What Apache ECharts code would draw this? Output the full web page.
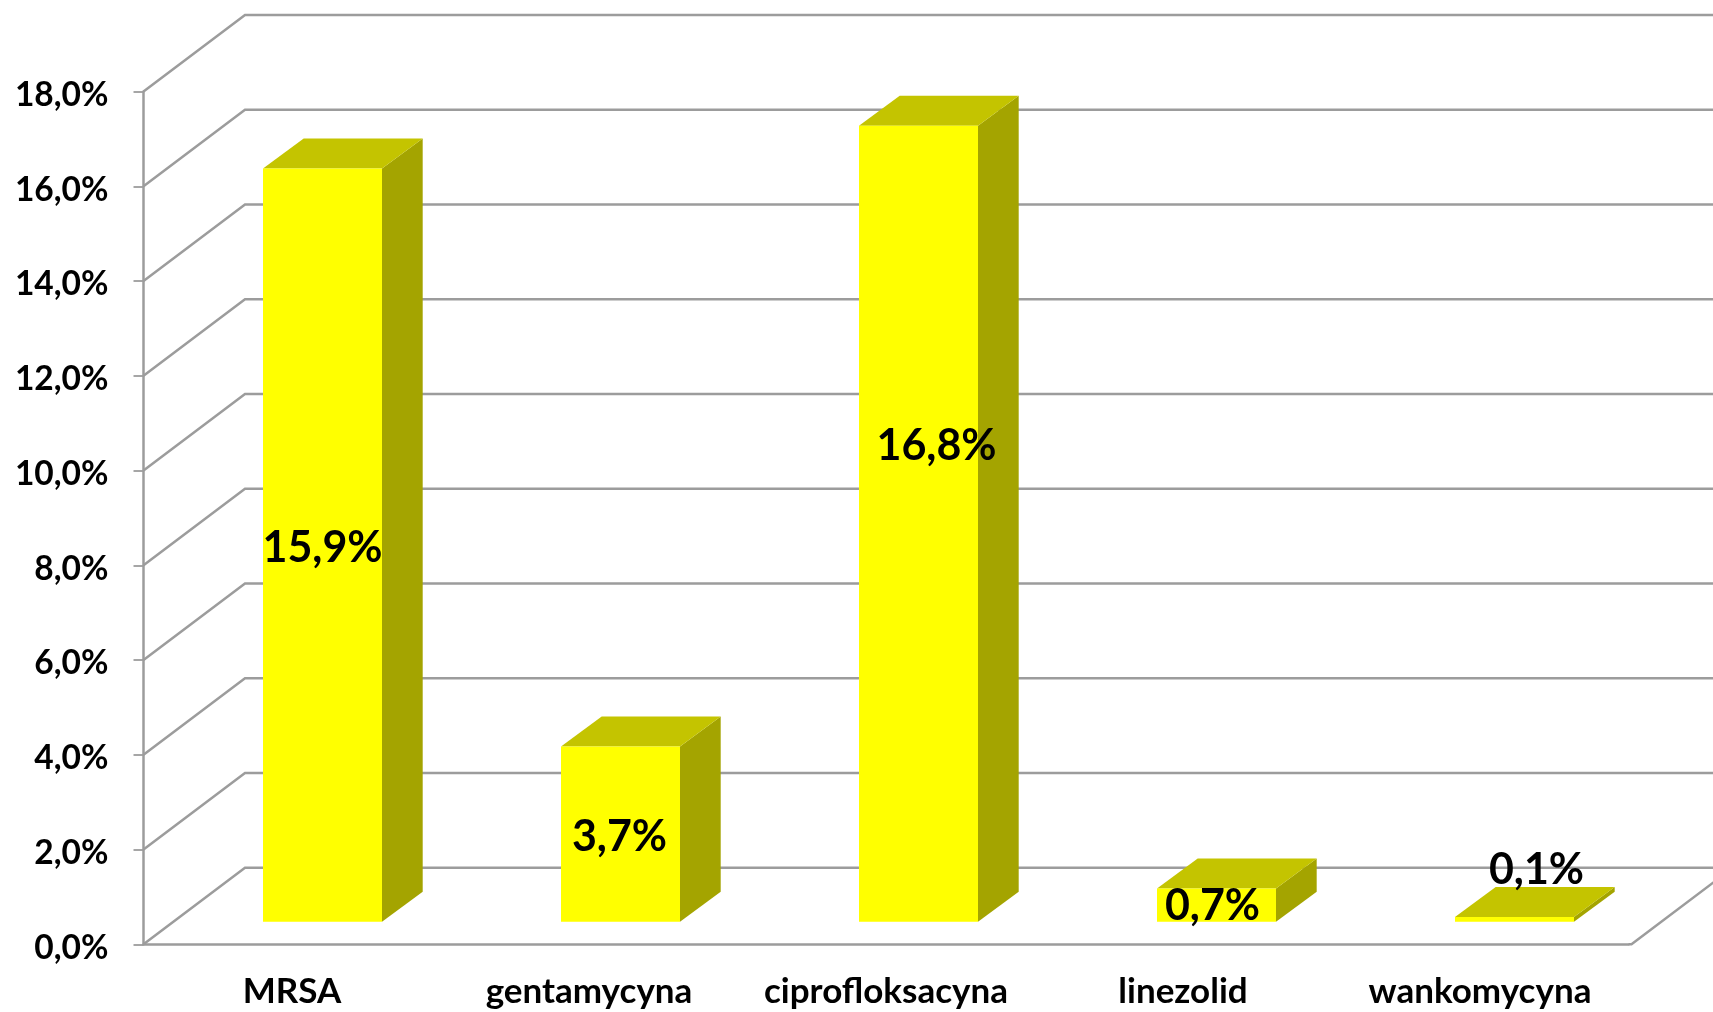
<!DOCTYPE html>
<html>
<head>
<meta charset="utf-8">
<style>html,body{margin:0;padding:0;background:#fff}#c{width:1713px;height:1012px}</style>
<script src="https://cdn.jsdelivr.net/npm/echarts@6/dist/echarts.min.js"></script>
</head>
<body>
<div id="c"></div>
<script>
const categories = ['MRSA', 'gentamycyna', 'ciprofloksacyna', 'linezolid', 'wankomycyna'];
const values = [15.9, 3.7, 16.8, 0.7, 0.1];
const yTicks = [0, 2, 4, 6, 8, 10, 12, 14, 16, 18];

// Pseudo-3D drawing constants (pixels)
const WALL = { dx: 101.5, dy: 76.6 };
const BAR = { left: -29, right: 90, lift: 22.6, dx: 40.7, dy: 30, drift: 1 };
const LABEL_NUDGE = [[0, 3], [-1, 3], [18, -78], [-4, 1], [22, -49]];
const GRAY = '#9c9c9c', LW = 2.5;
const FONT = 'Lato, Carlito, sans-serif';
const fmt = v => v.toFixed(1).replace('.', ',') + '%';

const chart = echarts.init(document.getElementById('c'));
chart.setOption({
  animation: false,
  backgroundColor: '#fff',
  grid: { left: 143.5, width: 1485, top: 91.5, height: 852.8, containLabel: false },
  xAxis: {
    type: 'category', data: categories, boundaryGap: true,
    axisLine: { lineStyle: { color: GRAY, width: LW } },
    axisTick: { length: 11, lineStyle: { color: GRAY, width: 1.8 } },
    axisLabel: { color: '#000', fontFamily: FONT, fontWeight: 'bold', fontSize: 35, margin: 30, interval: 0 }
  },
  yAxis: {
    type: 'value', min: 0, max: 18, interval: 2,
    splitLine: { show: false },
    axisLine: { show: true, lineStyle: { color: GRAY, width: LW } },
    axisTick: { show: true, length: 10, lineStyle: { color: GRAY, width: 1.8 } },
    axisLabel: { color: '#000', fontFamily: FONT, fontWeight: 'bold', fontSize: 33.5, margin: 35, verticalAlign: 'top', lineHeight: 7, formatter: v => fmt(v) }
  },
  series: [
    {
      type: 'custom', silent: true, z: 1, clip: false,
      data: yTicks.map(t => [0, t]),
      encode: { x: 0, y: 1 },
      renderItem(params, api) {
        const bw = api.size([1, 0])[0];
        const p = api.coord([0, api.value(1)]);
        const x0 = p[0] - bw / 2, y0 = p[1];
        const children = [{
          type: 'polyline',
          shape: { points: [[x0, y0], [x0 + WALL.dx, y0 - WALL.dy], [1720, y0 - WALL.dy]] },
          style: { fill: null, stroke: GRAY, lineWidth: LW }
        }];
        if (api.value(1) === 0) {
          const xr = x0 + bw * 5 + 3;
          children.push({
            type: 'polyline',
            shape: { points: [[x0 + bw * 5, y0], [xr, y0], [xr + WALL.dx, y0 - WALL.dy]] },
            style: { fill: null, stroke: GRAY, lineWidth: LW }
          });
        }
        return { type: 'group', children };
      }
    },
    {
      type: 'custom', z: 2, clip: false,
      data: values.map((v, i) => [i, v]),
      encode: { x: 0, y: 1 },
      renderItem(params, api) {
        const i = api.value(0), v = api.value(1);
        const top = api.coord([i, v]), base = api.coord([i, 0]);
        const l = top[0] + BAR.left + i * BAR.drift, r = top[0] + BAR.right + i * BAR.drift;
        const b = base[1] - BAR.lift, t = top[1] - BAR.lift;
        const n = LABEL_NUDGE[i];
        return {
          type: 'group',
          children: [
            { type: 'polygon', shape: { points: [[r, b], [r + BAR.dx, b - BAR.dy], [r + BAR.dx, t - BAR.dy], [r, t]] }, style: { fill: '#a4a400' } },
            { type: 'polygon', shape: { points: [[l, t], [r, t], [r + BAR.dx, t - BAR.dy], [l + BAR.dx, t - BAR.dy]] }, style: { fill: '#c4c400' } },
            { type: 'rect', shape: { x: l, y: t, width: r - l, height: b - t }, style: { fill: '#ffff00' } },
            { type: 'text', z2: 10, style: {
                text: fmt(v), x: (l + r) / 2 + n[0], y: (t + b) / 2 + n[1],
                align: 'center', verticalAlign: 'middle', fill: '#000',
                font: 'bold 43px ' + FONT } }
          ]
        };
      }
    }
  ]
});
</script>
</body>
</html>
